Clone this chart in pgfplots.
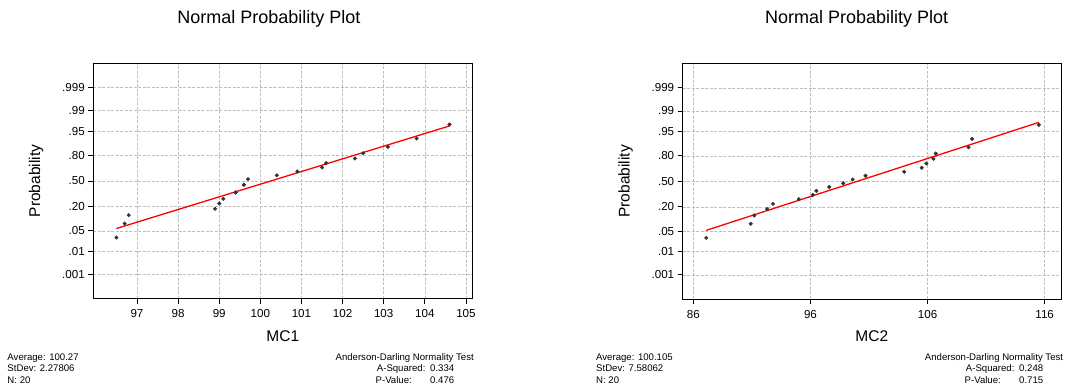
\documentclass[border=0pt]{standalone}
\usepackage{pgfplots}
\pgfplotsset{compat=1.18}
\usepackage{fontspec}
\setmainfont{Liberation Sans}

% Normal probability scale: y is the standard normal quantile,
% labelled with the matching cumulative probability.
\pgfplotsset{
  probplot/.style={
    scale only axis,
    anchor=south west,
    ymin=-3.89, ymax=3.89,
    ytick={-3.0902,-2.3263,-1.6449,-0.8416,0,0.8416,1.6449,2.3263,3.0902},
    yticklabels={.001,.01,.05,.20,.50,.80,.95,.99,.999},
    grid=major,
    major grid style={gray!50, line width=0.5bp, dash pattern=on 3bp off 1.5bp},
    axis line style={line width=0.8bp},
    tick style={black, line width=0.8bp},
    tick align=outside,
    major tick length=5bp,
    xtick pos=bottom, ytick pos=left,
    tick label style={font=\fontsize{11.6bp}{13bp}\selectfont},
    xticklabel style={yshift=-2.5bp},
    label style={font=\fontsize{15.5bp}{17bp}\selectfont},
    ylabel={Probability},
    ylabel style={at={(axis description cs:-0.151,0.5)}, anchor=center, rotate=0},
    xlabel style={at={(axis description cs:0.5,-0.158)}, anchor=center},
  },
  dots/.style={only marks, mark=*, mark size=1.8bp, color=black!80},
  fitline/.style={red, line width=1.3bp, no marks},
}
\newcommand\notefont{\fontsize{9.6bp}{11bp}\selectfont}
\newcommand\titlefont{\fontsize{18bp}{20bp}\selectfont}
\tikzset{note/.style={font=\notefont, inner sep=0pt}}

\begin{document}
\begin{tikzpicture}
\useasboundingbox (0,0) rectangle (1067bp,389bp);

% ---------- MC1 ----------
\node[font=\titlefont] at (268.8bp,370.5bp) {Normal Probability Plot};
\begin{axis}[probplot,
  at={(93.3bp,90.3bp)}, width=379bp, height=235.4bp,
  xmin=95.938, xmax=105.154,
  xtick={97,98,99,100,101,102,103,104,105},
  xticklabels={97,98,99,100,101,102,103,104,105},
  xlabel={MC1}]
\addplot[dots] coordinates {
  (96.5,-1.868) (96.7,-1.404) (96.8,-1.128) (98.9,-0.919) (99.0,-0.744)
  (99.1,-0.589) (99.4,-0.380) (99.4,-0.380) (99.6,-0.124) (99.6,-0.124)
  (99.7,0.062) (100.4,0.187) (100.9,0.315) (101.5,0.448) (101.6,0.589)
  (102.3,0.744) (102.5,0.919) (103.1,1.128) (103.8,1.404) (104.6,1.868)};
\addplot[fitline] coordinates {(96.5,-1.57) (104.6,1.82)};
\end{axis}
\node[note, anchor=base west] at (7.3bp,29bp) {Average: 100.27};
\node[note, anchor=base west] at (7.3bp,17.5bp) {StDev: 2.27806};
\node[note, anchor=base west] at (7.3bp,6bp) {N: 20};
\node[note, anchor=base east] at (474bp,29bp) {Anderson-Darling Normality Test};
\node[note, anchor=base west] at (376.7bp,17.5bp) {A-Squared:};
\node[note, anchor=base west] at (430bp,17.5bp) {0.334};
\node[note, anchor=base west] at (375.5bp,6bp) {P-Value:};
\node[note, anchor=base west] at (430bp,6bp) {0.476};

% ---------- MC2 ----------
\node[font=\titlefont] at (856.7bp,370.5bp) {Normal Probability Plot};
\begin{axis}[probplot,
  at={(682.7bp,90bp)}, width=378.3bp, height=235.3bp,
  xmin=85.089, xmax=117.395,
  xtick={86,96,106,116},
  xticklabels={86,96,106,116},
  xlabel={MC2}]
\addplot[dots] coordinates {
  (87.1,-1.868) (90.9,-1.404) (91.2,-1.128) (92.3,-0.919) (92.8,-0.744)
  (95.0,-0.589) (96.2,-0.448) (96.5,-0.315) (97.6,-0.187) (98.8,-0.062)
  (99.6,0.062) (100.7,0.187) (104.0,0.315) (105.5,0.448) (105.9,0.589)
  (106.5,0.744) (106.7,0.919) (109.5,1.128) (109.8,1.404) (115.5,1.868)};
\addplot[fitline] coordinates {(87.1,-1.62) (115.5,1.95)};
\end{axis}
\node[note, anchor=base west] at (596bp,29bp) {Average: 100.105};
\node[note, anchor=base west] at (596bp,17.5bp) {StDev: 7.58062};
\node[note, anchor=base west] at (596bp,6bp) {N: 20};
\node[note, anchor=base east] at (1063.3bp,29bp) {Anderson-Darling Normality Test};
\node[note, anchor=base west] at (965.7bp,17.5bp) {A-Squared:};
\node[note, anchor=base west] at (1019bp,17.5bp) {0.248};
\node[note, anchor=base west] at (964.5bp,6bp) {P-Value:};
\node[note, anchor=base west] at (1019bp,6bp) {0.715};
\end{tikzpicture}
\end{document}
